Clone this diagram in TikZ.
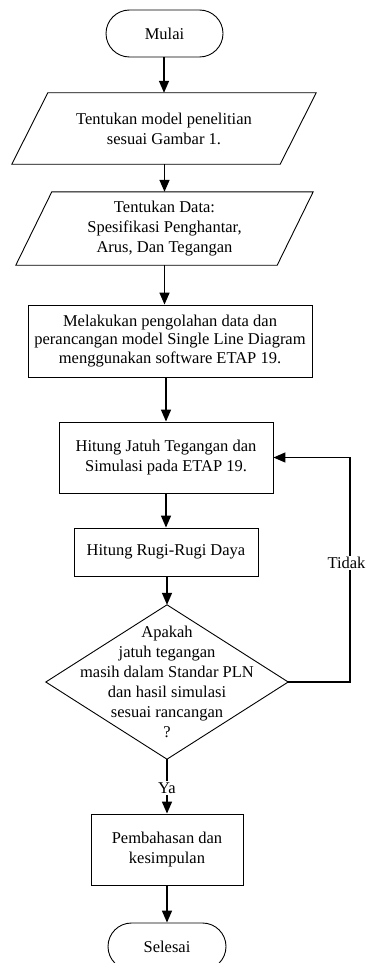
\documentclass[tikz,border=0pt]{standalone}
\usepackage{fontspec}
\setmainfont{Liberation Serif}
\usetikzlibrary{arrows.meta,calc}
\begin{document}
\begin{tikzpicture}[x=1pt,y=-1pt,
  every node/.style={font=\fontsize{16.5}{20}\selectfont, align=center, inner sep=0pt},
  box/.style={draw, line width=0.9pt, rectangle},
  term/.style={draw, line width=0.9pt, rounded corners=23.5pt, minimum height=47pt},
  outline/.style={line width=0.9pt},
  arr/.style={line width=1.5pt, -{Triangle[width=10pt,length=12pt]}},
  lbl/.style={fill=white, inner sep=1.5pt}]
\path[use as bounding box, clip] (0,0) rectangle (367,963);

\node[term, minimum width=117pt] (start) at (164.5,33.5) {Mulai};

\node[minimum width=304pt, minimum height=71pt] (p1) at (164,128.5)
  {Tentukan model penelitian\\sesuai Gambar 1.};
\draw[outline] ([xshift=36pt]p1.north west) -- (p1.north east)
  -- ([xshift=-36pt]p1.south east) -- (p1.south west) -- cycle;

\node[minimum width=297pt, minimum height=73pt] (p2) at (164.5,228.5)
  {Tentukan Data:\\Spesifikasi Penghantar,\\Arus, Dan Tegangan};
\draw[outline] ([xshift=36pt]p2.north west) -- (p2.north east)
  -- ([xshift=-36pt]p2.south east) -- (p2.south west) -- cycle;

\node[box, minimum width=284pt, minimum height=72pt, font=\fontsize{16.5}{18.5}\selectfont] (b3) at (170,341)
  {Melakukan pengolahan data dan\\perancangan model Single Line Diagram\\menggunakan software ETAP 19.};

\node[box, minimum width=214pt, minimum height=71pt] (b4) at (166,457.5)
  {Hitung Jatuh Tegangan dan\\Simulasi pada ETAP 19.};

\node[box, minimum width=184pt, minimum height=48pt] (b5) at (166,552)
  {Hitung Rugi-Rugi Daya};

\node[minimum width=242pt, minimum height=154pt] (d) at (167,682)
  {Apakah\\jatuh tegangan\\masih dalam Standar PLN\\dan hasil simulasi\\sesuai rancangan\\?};
\draw[outline] (d.north) -- (d.east) -- (d.south) -- (d.west) -- cycle;

\node[box, minimum width=152pt, minimum height=71pt] (b6) at (167,849.5)
  {Pembahasan dan\\kesimpulan};

\node[term, minimum width=118pt] (end) at (167,946.5) {Selesai};

\draw[arr] (p1.north |- start.south) -- (p1.north);
\draw[arr] (p2.north |- p1.south) -- (p2.north);
\draw[arr] (p2.south) -- (p2.south |- b3.north);
\draw[arr] (b4.north |- b3.south) -- (b4.north);
\draw[arr] (b5.north |- b4.south) -- (b5.north);
\draw[arr] (d.north |- b5.south) -- (d.north);
\draw[arr] (d.south) -- (b6.north);
\node[lbl] (ya) at (167,788) {Ya};
\draw[arr] (end.north |- b6.south) -- (end.north);

\coordinate (fb) at (350,682);
\draw[arr, line width=1.3pt] (d.east) -- (fb) |- (b4.east);
\node[lbl, inner xsep=0.5pt] (tidak) at (346.5,563) {Tidak};
\end{tikzpicture}
\end{document}
